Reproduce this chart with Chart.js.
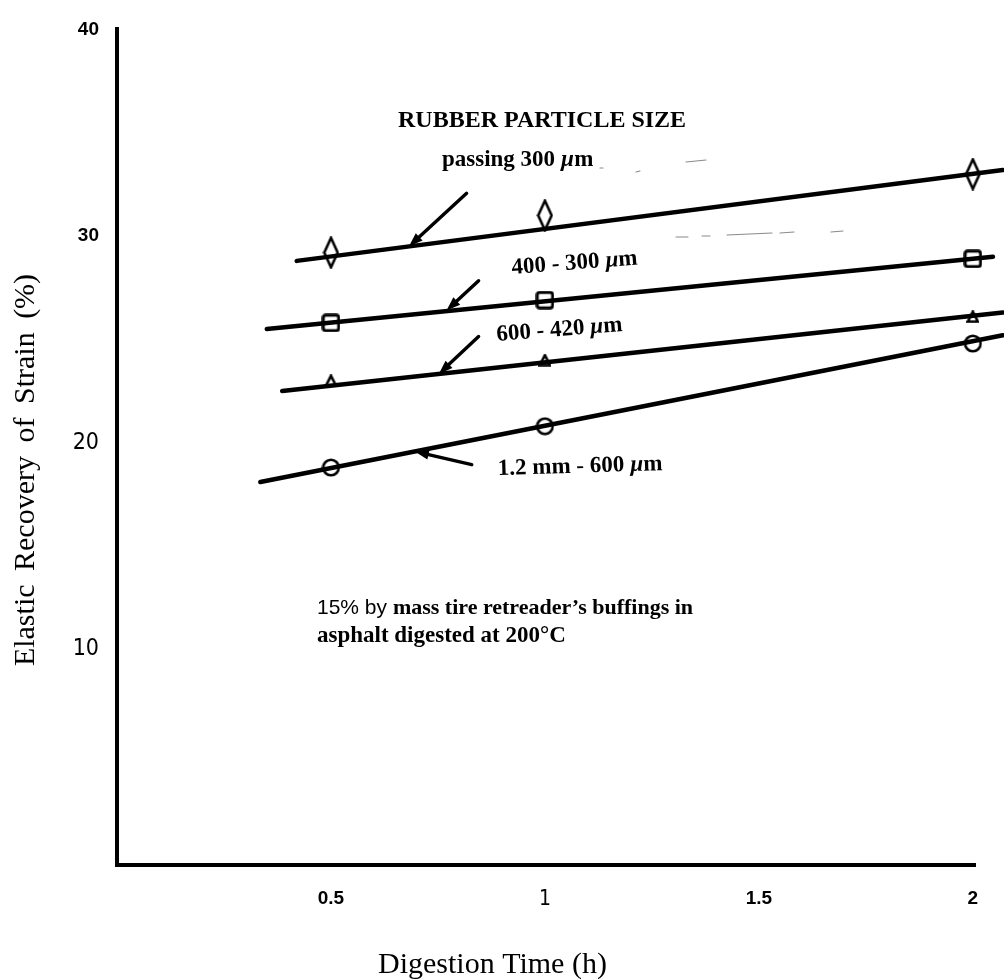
<!DOCTYPE html>
<html>
<head>
<meta charset="utf-8">
<script src="https://cdn.jsdelivr.net/npm/chart.js@4/dist/chart.umd.min.js"></script>
<style>
html,body{margin:0;padding:0;background:#fff;}
#wrap{width:1004px;height:980px;position:relative;}
canvas{display:block;}
</style>
</head>
<body>
<div id="wrap"><canvas id="c" width="1004" height="980"></canvas></div>
<script>
// ---- data ----
const digestionTimes = [0.5, 1, 2];
const passing300 = [29.2, 31.0, 33.0];
const size400to300 = [25.8, 26.9, 28.9];
const size600to420 = [23.0, 24.0, 26.1];
const size1200to600 = [18.8, 20.8, 24.8];

// fitted straight lines: [start time, end time] and [start value, end value]
const fitTimes300 = [0.42, 2.07];      const fitValues300 = [28.8, 33.2];
const fitTimes400 = [0.35, 2.047];     const fitValues400 = [25.5, 29.0];
const fitTimes600 = [0.386, 2.07];     const fitValues600 = [22.5, 26.3];
const fitTimes1200 = [0.335, 2.07];    const fitValues1200 = [18.1, 25.2];

const xTicks = [0.5, 1, 1.5, 2];
const yTicks = [10, 20, 30, 40];
const seriesNames = ['passing 300 µm', '400 - 300 µm', '600 - 420 µm', '1.2 mm - 600 µm'];

// ---- styling ----
const serif = "'Liberation Serif', 'Times New Roman', serif";
const sans = "'Liberation Sans', Arial, sans-serif";
const narrow = "'Liberation Sans Narrow', 'DejaVu Sans Condensed', 'Liberation Sans', sans-serif";

function makeCanvas(w, h, draw) {
  const c = document.createElement('canvas');
  c.width = w; c.height = h;
  const g = c.getContext('2d');
  g.strokeStyle = '#000'; g.fillStyle = '#000';
  draw(g, w, h);
  return c;
}
const diamondMark = makeCanvas(17, 33, (g, w, h) => {
  g.lineWidth = 2.6; g.lineJoin = 'miter';
  g.beginPath(); g.moveTo(w/2, 1.8); g.lineTo(w-1.8, h/2); g.lineTo(w/2, h-1.8); g.lineTo(1.8, h/2); g.closePath(); g.stroke();
});
const squareMark = makeCanvas(19, 19, (g, w, h) => {
  g.lineWidth = 3;
  g.beginPath(); g.roundRect(1.8, 1.8, w-3.6, h-3.6, 2.5); g.stroke();
});
const triangleMark = makeCanvas(13, 13, (g, w, h) => {
  g.lineWidth = 2.6;
  g.beginPath(); g.moveTo(w/2, 1.5); g.lineTo(w-1.5, h-1.5); g.lineTo(1.5, h-1.5); g.closePath(); g.stroke();
});
const circleMark = makeCanvas(19, 19, (g, w, h) => {
  g.lineWidth = 2.6;
  g.beginPath(); g.arc(w/2, h/2, 7.8, 0, Math.PI*2); g.stroke();
});

const toPts = (xs, ys) => xs.map((x, i) => ({x, y: ys[i]}));

function markerSet(label, values, mark) {
  return {
    label, data: toPts(digestionTimes, values), showLine: false,
    pointStyle: mark, pointRadius: 9, pointHoverRadius: 9,
    backgroundColor: 'rgba(0,0,0,0)', borderColor: '#000', clip: false, order: 2
  };
}
function lineSet(label, xs, ys) {
  return {
    label: label + ' (fit)', data: toPts(xs, ys), showLine: true,
    borderColor: '#000', borderWidth: 4.5, pointRadius: 0, pointHoverRadius: 0,
    borderCapStyle: 'round', clip: false, order: 1
  };
}

// arrows pointing from labels to the lines (in data units)
const arrows = [
  {from: [0.817, 32.07], to: [0.682, 29.50]},
  {from: [0.845, 27.84], to: [0.770, 26.40]},
  {from: [0.845, 25.14], to: [0.752, 23.33]},
  {from: [0.829, 18.94], to: [0.696, 19.58]}
];

// faint scanning specks visible in the reference (pixel segments)
const specks = [
  [600, 168, 603, 168], [636, 172, 640, 171], [686, 162, 706, 160],
  [676, 237, 688, 237], [702, 236, 710, 236], [727, 235, 772, 233], [780, 233, 794, 232], [831, 232, 843, 231]
];

const notes = [
  {x: 398, y: 127, rot: 0, parts: [{t: 'RUBBER PARTICLE SIZE', f: `bold 24px ${serif}`}]},
  {x: 442, y: 166, rot: 0, parts: [{t: 'passing 300 ', f: `bold 23px ${serif}`}, {t: 'µ', f: `italic bold 23px ${serif}`}, {t: 'm', f: `bold 23px ${serif}`}]},
  {x: 512, y: 274, rot: -0.075, parts: [{t: '400 - 300 ', f: `bold 23px ${serif}`}, {t: 'µ', f: `italic bold 23px ${serif}`}, {t: 'm', f: `bold 23px ${serif}`}]},
  {x: 497, y: 341, rot: -0.08, parts: [{t: '600 - 420 ', f: `bold 23px ${serif}`}, {t: 'µ', f: `italic bold 23px ${serif}`}, {t: 'm', f: `bold 23px ${serif}`}]},
  {x: 498, y: 475, rot: -0.03, parts: [{t: '1.2 mm - 600 ', f: `bold 23px ${serif}`}, {t: 'µ', f: `italic bold 23px ${serif}`}, {t: 'm', f: `bold 23px ${serif}`}]},
  {x: 317, y: 614, rot: 0, parts: [{t: '15% by ', f: `21px ${sans}`}, {t: 'mass tire retreader’s buffings in', f: `bold 22px ${serif}`}]},
  {x: 317, y: 642, rot: 0, parts: [{t: 'asphalt digested at 200°C', f: `bold 23px ${serif}`}]}
];

const annotationPlugin = {
  id: 'annotations',
  afterDraw(chart) {
    const ctx = chart.ctx;
    const xs = chart.scales.x, ys = chart.scales.y;
    ctx.save();
    ctx.fillStyle = '#000'; ctx.strokeStyle = '#000';
    // arrows
    for (const a of arrows) {
      const x1 = xs.getPixelForValue(a.from[0]), y1 = ys.getPixelForValue(a.from[1]);
      const x2 = xs.getPixelForValue(a.to[0]), y2 = ys.getPixelForValue(a.to[1]);
      const ang = Math.atan2(y2 - y1, x2 - x1);
      const head = 14, hw = 5;
      const bx = x2 - head * Math.cos(ang), by = y2 - head * Math.sin(ang);
      ctx.lineWidth = 3.4; ctx.lineCap = 'round';
      ctx.beginPath(); ctx.moveTo(x1, y1); ctx.lineTo(bx, by); ctx.stroke();
      ctx.beginPath();
      ctx.moveTo(x2, y2);
      ctx.lineTo(bx + hw * Math.sin(ang), by - hw * Math.cos(ang));
      ctx.lineTo(bx - hw * Math.sin(ang), by + hw * Math.cos(ang));
      ctx.closePath(); ctx.fill();
    }
    // specks
    ctx.lineWidth = 1.1; ctx.strokeStyle = '#8a8a8a';
    for (const s of specks) { ctx.beginPath(); ctx.moveTo(s[0], s[1]); ctx.lineTo(s[2], s[3]); ctx.stroke(); }
    ctx.strokeStyle = '#000';
    // text notes
    ctx.textAlign = 'left'; ctx.textBaseline = 'alphabetic';
    for (const n of notes) {
      ctx.save();
      ctx.translate(n.x, n.y); ctx.rotate(n.rot);
      let cx = 0;
      for (const p of n.parts) { ctx.font = p.f; ctx.fillText(p.t, cx, 0); cx += ctx.measureText(p.t).width; }
      ctx.restore();
    }
    // axis titles
    ctx.font = `30px ${serif}`;
    ctx.textAlign = 'left';
    ctx.fillText('Digestion Time (h)', 378, 973);
    ctx.save();
    ctx.translate(34, 470); ctx.rotate(-Math.PI / 2);
    ctx.textAlign = 'center';
    try { ctx.wordSpacing = '6px'; } catch (e) {}
    ctx.fillText('Elastic Recovery of Strain (%)', 0, 0);
    ctx.restore();
    ctx.restore();
  }
};

const boldTicksX = [0.5, 1.5, 2];
const boldTicksY = [30, 40];

new Chart(document.getElementById('c'), {
  type: 'scatter',
  data: {
    datasets: [
      markerSet(seriesNames[0], passing300, diamondMark),
      markerSet(seriesNames[1], size400to300, squareMark),
      markerSet(seriesNames[2], size600to420, triangleMark),
      markerSet(seriesNames[3], size1200to600, circleMark),
      lineSet(seriesNames[0], fitTimes300, fitValues300),
      lineSet(seriesNames[1], fitTimes400, fitValues400),
      lineSet(seriesNames[2], fitTimes600, fitValues600),
      lineSet(seriesNames[3], fitTimes1200, fitValues1200)
    ]
  },
  options: {
    responsive: false,
    animation: false,
    devicePixelRatio: 1,
    layout: {padding: {top: 24, right: 29, left: 0, bottom: 0}},
    plugins: {legend: {display: false}, tooltip: {enabled: false}},
    scales: {
      x: {
        type: 'linear', min: 0, max: 2.005,
        afterBuildTicks: s => { s.ticks = xTicks.map(v => ({value: v})); },
        afterFit: s => { s.height = 115; },
        grid: {display: false, drawTicks: false},
        border: {display: true, color: '#000', width: 4},
        ticks: {
          color: '#000', padding: 22, maxRotation: 0, autoSkip: false,
          callback: v => String(v),
          font: ctx => boldTicksX.includes(ctx.tick && ctx.tick.value)
            ? {family: sans, size: 19, weight: 'bold'}
            : {family: narrow, size: 21, weight: 'normal'}
        }
      },
      y: {
        type: 'linear', min: -0.43, max: 40,
        afterBuildTicks: s => { s.ticks = yTicks.map(v => ({value: v})); },
        afterFit: s => { s.width = 117; },
        grid: {display: false, drawTicks: false},
        border: {display: true, color: '#000', width: 4},
        ticks: {
          color: '#000', padding: 18, autoSkip: false,
          callback: v => String(v),
          font: ctx => boldTicksY.includes(ctx.tick && ctx.tick.value)
            ? {family: sans, size: 19, weight: 'bold'}
            : {family: narrow, size: 23, weight: 'normal'}
        }
      }
    }
  },
  plugins: [annotationPlugin]
});
</script>
</body>
</html>
